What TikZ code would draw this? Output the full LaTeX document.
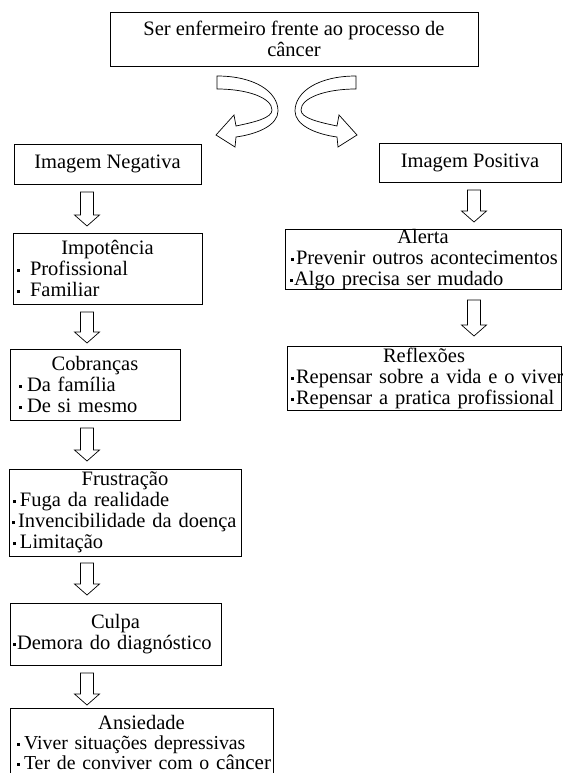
\documentclass[tikz,border=0pt]{standalone}
\usepackage{fontspec}
\setmainfont{Liberation Serif}
% item line: pre-space, gap after bullet, text
\newcommand{\itm}[3]{\mbox{\hspace*{#1}\rule[3.5pt]{3pt}{3pt}\hspace*{#2}#3}}
\newcommand{\ttl}[1]{\makebox[\hsize][c]{#1}}
\newcommand{\darr}[3]{%
  \draw[blk] (#1-6.5,#2) -- (#1+6.5,#2) -- (#1+6.5,#3-11) -- (#1+12.5,#3-11) -- (#1,#3) -- (#1-12.5,#3-11) -- (#1-6.5,#3-11) -- cycle;}
\newcommand{\curvarr}{%
  \draw[blk] (217,76) .. controls (255,76) and (278,92) .. (278,111)
    .. controls (278,125) and (258,134) .. (236,137) -- (235,147) -- (216,135) -- (234,115) -- (236,126)
    .. controls (255,122) and (272,118) .. (272,110)
    .. controls (272,98) and (248,89) .. (217,89) -- cycle;}
\begin{document}
\begin{tikzpicture}[x=1pt,y=-1pt,
  box/.style={draw, line width=0.8pt, inner xsep=3pt, inner ysep=0pt,
    font=\fontsize{20.5}{21}\selectfont, align=left},
  blk/.style={draw, line width=0.7pt, fill=white, line join=miter}]
\useasboundingbox (0,0) rectangle (562,773);
% boxes
\node[box, align=center, minimum width=368pt, minimum height=54pt] (top) at (294,39)
  {Ser enfermeiro frente ao processo de\\câncer};
\node[box, align=center, minimum width=187pt, minimum height=40pt] (neg) at (107.5,164) {Imagem Negativa};
\node[box, align=center, minimum width=182pt, minimum height=39pt] (pos) at (470,162.5) {Imagem Positiva};
\node[box, text width=183pt, minimum height=71pt] (imp) at (107.5,268.5)
  {\ttl{Impotência}\\\itm{1pt}{10pt}{Profissional}\\\itm{1pt}{10pt}{Familiar}};
\node[box, text width=270pt, minimum height=60pt] (ale) at (423,259.5)
  {\ttl{Alerta}\\\itm{3pt}{2pt}{Prevenir outros acontecimentos}\\\itm{2pt}{1pt}{Algo precisa ser mudado}};
\node[box, text width=268pt, minimum height=64pt] (ref) at (424,378)
  {\ttl{Reflexões}\\\itm{1pt}{2pt}{Repensar sobre a vida e o viver}\\\itm{1pt}{2pt}{Repensar a pratica profissional}};
\node[box, text width=164pt, minimum height=71pt] (cob) at (95,384.5)
  {\ttl{Cobranças}\\\itm{6pt}{5pt}{Da família}\\\itm{6pt}{5pt}{De si mesmo}};
\node[box, text width=226pt, minimum height=87pt] (fru) at (125,512.5)
  {\ttl{Frustração}\\\itm{1pt}{4pt}{Fuga da realidade}\\\itm{0pt}{3pt}{Invencibilidade da doença}\\\itm{1pt}{4pt}{Limitação}};
\node[box, text width=205pt, minimum height=62pt] (cul) at (115.5,634)
  {\ttl{Culpa}\\\itm{0pt}{1pt}{Demora do diagnóstico}};
\node[box, text width=257pt, minimum height=68pt, font=\fontsize{20.5}{20}\selectfont] (ans) at (141.5,742)
  {\ttl{Ansiedade}\\{\fontsize{19.8}{20}\selectfont\itm{4pt}{4pt}{Viver situações depressivas}}\\{\fontsize{19.8}{20}\selectfont\itm{4pt}{4pt}{Ter de conviver com o {\fontsize{21}{20}\selectfont câncer}}}};
% curved arrows
\curvarr
\begin{scope}[shift={(573,0)}, xscale=-1]
\curvarr
\end{scope}
% block arrows
\darr{87}{192}{226}
\darr{87}{312}{343}
\darr{87}{428}{461}
\darr{87}{563}{595}
\darr{87}{673}{705}
\darr{474}{190}{222}
\darr{474}{300}{336}
\end{tikzpicture}
\end{document}
